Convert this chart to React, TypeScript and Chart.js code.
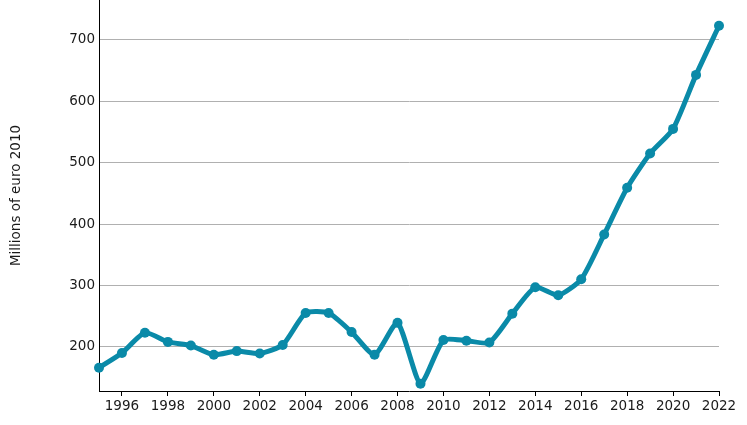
import React, { useEffect, useRef } from "react";
import { Chart, registerables } from "chart.js";

Chart.register(...registerables);

const years = [1995, 1996, 1997, 1998, 1999, 2000, 2001, 2002, 2003, 2004, 2005, 2006, 2007, 2008, 2009, 2010, 2011, 2012, 2013, 2014, 2015, 2016, 2017, 2018, 2019, 2020, 2021, 2022];
const values = [166, 190, 223, 208, 202, 187, 193, 189, 203, 255, 255, 224, 187, 239, 140, 211, 210, 207, 254, 297, 284, 310, 383, 459, 515, 555, 643, 723];
const xTicks = [1996, 1998, 2000, 2002, 2004, 2006, 2008, 2010, 2012, 2014, 2016, 2018, 2020, 2022];
const yTicks = [200, 300, 400, 500, 600, 700];
const yTitle = "Millions of euro 2010";

const SHIFT = 5;

export default function App() {
  const ref = useRef<HTMLCanvasElement | null>(null);
  useEffect(() => {
    if (!ref.current) return;
    const font = { family: "DejaVu Sans", size: 13.5 };
    const chart = new Chart(ref.current, {
      type: "line",
      data: {
        datasets: [
          {
            data: years.map((y, i) => ({ x: y, y: values[i] })),
            borderColor: "#0a8aa8",
            backgroundColor: "#0a8aa8",
            borderWidth: 5,
            pointRadius: 5,
            pointBorderWidth: 0,
            pointHoverRadius: 5,
            tension: 0.2,
            fill: false,
            clip: false,
          },
        ],
      },
      options: {
        animation: false,
        responsive: false,
        maintainAspectRatio: false,
        plugins: { legend: { display: false }, tooltip: { enabled: false } },
        layout: { padding: { left: 0, right: 28, top: 0, bottom: 0 } },
        scales: {
          x: {
            type: "linear",
            min: 1995,
            max: 2022,
            afterBuildTicks: (s: any) => {
              s.ticks = xTicks.map((v) => ({ value: v }));
            },
            afterFit: (s: any) => {
              s.height = 34;
              s.paddingLeft = 0;
              s.paddingRight = 0;
            },
            ticks: {
              font,
              color: "#1a1a1a",
              padding: 2,
              maxRotation: 0,
              autoSkip: false,
              callback: (v: any) => String(v),
            },
            grid: { drawOnChartArea: false, drawTicks: true, tickLength: 5, color: "#000" },
            border: { color: "#000", width: 1 },
          },
          y: {
            type: "linear",
            min: 128,
            max: 765,
            afterBuildTicks: (s: any) => {
              s.ticks = yTicks.map((v) => ({ value: v }));
            },
            afterFit: (s: any) => {
              s.width = 99;
              s.paddingTop = 0;
              s.paddingBottom = 0;
            },
            ticks: { font, color: "#1a1a1a", padding: 4 },
            grid: { color: "#b0b0b0", drawTicks: false, lineWidth: 1 },
            border: { color: "#000", width: 1 },
            title: { display: true, text: yTitle, font, color: "#1a1a1a", padding: { top: 8, bottom: 0 } },
          },
        },
      },
    });
    return () => chart.destroy();
  }, []);
  return (
    <div style={{ position: "fixed", left: 0, top: 0, width: 747, height: 425, background: "#fff", overflow: "hidden" }}>
      <canvas
        ref={ref}
        width={747}
        height={425 + SHIFT}
        style={{ position: "absolute", left: 0, top: -SHIFT, width: 747, height: 425 + SHIFT, display: "block" }}
      />
    </div>
  );
}
